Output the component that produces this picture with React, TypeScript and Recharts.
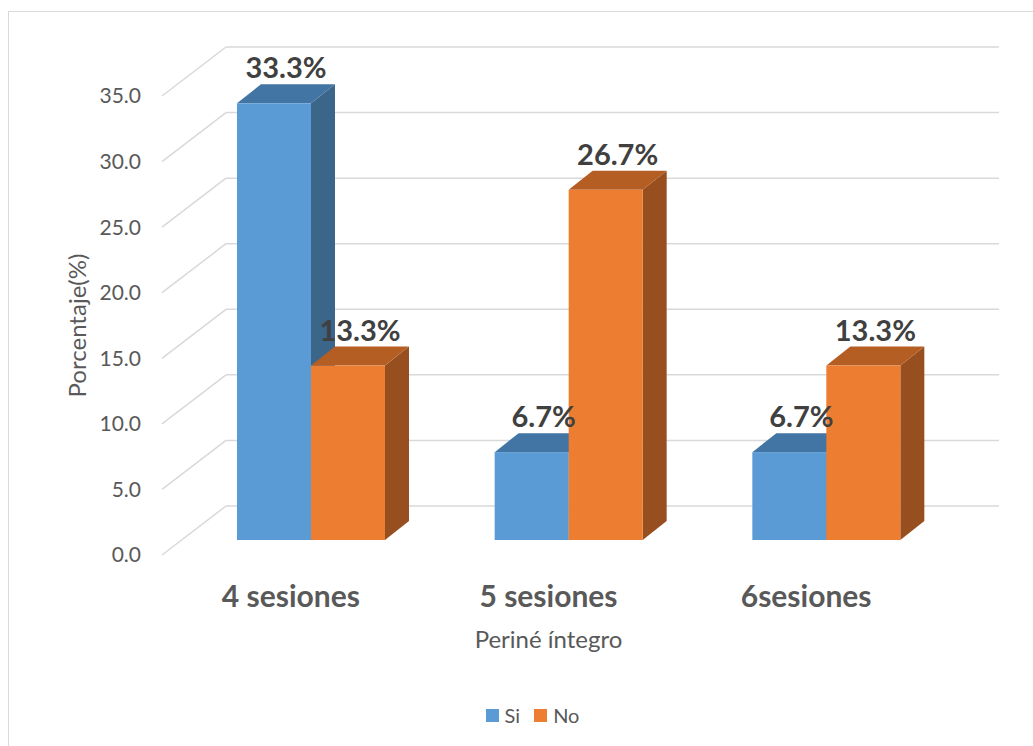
import { Bar, BarChart, CartesianGrid, LabelList, Legend, XAxis, YAxis } from 'recharts';

const categories = ['4 sesiones', '5 sesiones', '6sesiones'];
const siValues = [33.3, 6.7, 6.7];
const noValues = [13.3, 26.7, 13.3];
const yTicks = [0, 5, 10, 15, 20, 25, 30, 35];
const seriesOrder = ['si', 'no'];

const data = categories.map((name, i) => ({ name, si: siValues[i], no: noValues[i] }));

const W = 1033;
const H = 746;
const FONT = 'Lato, "Open Sans", sans-serif';
const GRID = '#d9d9d9';
const TEXT = '#595959';

// fake 3D: back wall offset, bar offset from the floor edge, bar depth
const WALL_DX = 64;
const WALL_DY = -49;
const BAR_DX = 20;
const BAR_DY = -15;
const DEPTH_DX = 24;
const DEPTH_DY = -19;

const faces = {
  si: { front: '#5b9bd5', top: '#4375a4', side: '#3b6589' },
  no: { front: '#ed7d31', top: '#b55e24', side: '#984f1f' },
};

const pts = (arr: number[][]) => arr.map((p) => p.join(',')).join(' ');

const bar3d = (f: { front: string; top: string; side: string }) => (props: any) => {
  const { x, y, width, height } = props;
  const fx = x + BAR_DX;
  const fy = y + BAR_DY;
  const r = fx + width;
  return (
    <g>
      <polygon
        points={pts([[r, fy], [r + DEPTH_DX, fy + DEPTH_DY], [r + DEPTH_DX, fy + height + DEPTH_DY], [r, fy + height]])}
        fill={f.side}
      />
      <polygon
        points={pts([[fx, fy], [fx + DEPTH_DX, fy + DEPTH_DY], [r + DEPTH_DX, fy + DEPTH_DY], [r, fy]])}
        fill={f.top}
      />
      <rect x={fx} y={fy} width={width} height={height} fill={f.front} />
    </g>
  );
};

const valueLabel = (props: any) => {
  const { x, y, width, value } = props;
  return (
    <text
      x={x + BAR_DX + width / 2 + DEPTH_DX / 2}
      y={y + BAR_DY + DEPTH_DY - 6}
      textAnchor="middle"
      fontFamily={FONT}
      fontWeight={700}
      fontSize={29}
      fill="#404040"
    >
      {Number(value).toFixed(1)}%
    </text>
  );
};

const wallLine = (props: any) => {
  const { x1, x2, y1 } = props;
  return (
    <g key={`wall-${y1}`}>
      <line x1={x1} y1={y1} x2={x1 + WALL_DX} y2={y1 + WALL_DY} stroke={GRID} strokeWidth={1.5} />
      <line x1={x1 + WALL_DX} y1={y1 + WALL_DY} x2={x2 + WALL_DX} y2={y1 + WALL_DY} stroke={GRID} strokeWidth={1.5} />
    </g>
  );
};

const CategoryTick = (props: any) => {
  const { x, y, payload } = props;
  return (
    <text x={x} y={y + 50} textAnchor="middle" fontFamily={FONT} fontWeight={700} fontSize={30} fill={TEXT}>
      {payload.value}
    </text>
  );
};

const LegendContent = (props: any) => {
  const items = [...(props.payload || [])].sort(
    (a: any, b: any) => seriesOrder.indexOf(a.dataKey) - seriesOrder.indexOf(b.dataKey)
  );
  return (
    <div style={{ display: 'flex', justifyContent: 'center', gap: 14, fontFamily: FONT, fontSize: 20, color: TEXT }}>
      {items.map((entry: any) => (
        <div key={entry.value} style={{ display: 'flex', alignItems: 'center', gap: 6 }}>
          <span style={{ width: 13, height: 13, background: entry.color, display: 'inline-block' }} />
          <span>{entry.value}</span>
        </div>
      ))}
    </div>
  );
};

export default function App() {
  return (
    <div style={{ position: 'absolute', left: 0, top: 0, width: W, height: H, overflow: 'hidden', background: '#fff' }}>
      <div
        style={{
          position: 'absolute',
          left: 8,
          top: 11,
          width: 1100,
          height: 800,
          border: `1px solid ${GRID}`,
        }}
      />
      <BarChart
        width={W}
        height={H}
        data={data}
        margin={{ top: 96, right: 98, bottom: 131, left: 0 }}
        barSize={74}
        barGap={0}
      >
        <CartesianGrid vertical={false} horizontal={wallLine} />
        <YAxis
          width={162}
          domain={[0, 35]}
          ticks={yTicks}
          tickFormatter={(v: number) => v.toFixed(1)}
          axisLine={false}
          tickLine={false}
          tickSize={0}
          tickMargin={21}
          tick={{ fontFamily: FONT, fontSize: 21, fill: TEXT }}
          label={(p: any) => (
            <text
              x={76}
              y={p.viewBox.y + p.viewBox.height / 2}
              transform={`rotate(-90, 76, ${p.viewBox.y + p.viewBox.height / 2})`}
              textAnchor="middle"
              dominantBaseline="central"
              fontFamily={FONT}
              fontSize={24}
              fill={TEXT}
            >
              Porcentaje(%)
            </text>
          )}
        />
        <XAxis
          dataKey="name"
          height={60}
          axisLine={false}
          tickLine={false}
          tickSize={0}
          tick={<CategoryTick />}
          label={(p: any) => (
            <text
              x={p.viewBox.x + p.viewBox.width / 2}
              y={648}
              textAnchor="middle"
              fontFamily={FONT}
              fontSize={24}
              fill={TEXT}
            >
              Periné íntegro
            </text>
          )}
        />
        <Legend
          layout="horizontal"
          verticalAlign="middle"
          align="center"
          wrapperStyle={{ top: 703, left: 16, width: W }}
          content={<LegendContent />}
        />
        <Bar dataKey="si" name="Si" fill={faces.si.front} shape={bar3d(faces.si)} isAnimationActive={false}>
          <LabelList dataKey="si" content={valueLabel} />
        </Bar>
        <Bar dataKey="no" name="No" fill={faces.no.front} shape={bar3d(faces.no)} isAnimationActive={false}>
          <LabelList dataKey="no" content={valueLabel} />
        </Bar>
      </BarChart>
    </div>
  );
}
